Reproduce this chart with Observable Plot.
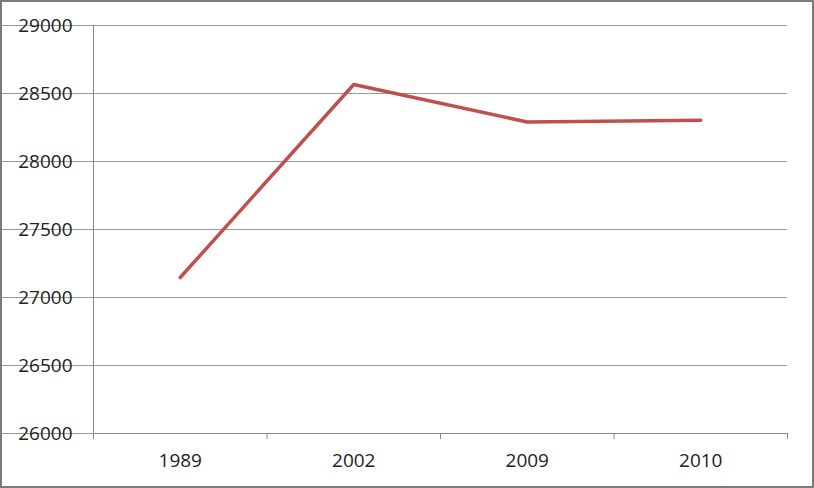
<!DOCTYPE html>
<html>
<head>
<meta charset="utf-8">
<script src="https://cdn.jsdelivr.net/npm/d3@7"></script>
<script src="https://cdn.jsdelivr.net/npm/@observablehq/plot@0.6"></script>
<style>
  html, body { margin: 0; padding: 0; background: #fff; }
  #chart svg { display: block; outline: 2px solid #7a7a7a; outline-offset: -2px; }
</style>
</head>
<body>
<div id="chart"></div>
<script>
const years = ["1989", "2002", "2009", "2010"];
const values = [27147, 28566, 28290, 28304];
const yTicks = [26000, 26500, 27000, 27500, 28000, 28500, 29000];

const data = years.map((y, i) => ({pos: i + 0.5, year: y, value: values[i]}));
const bounds = d3.range(years.length + 1);

const chart = Plot.plot({
  width: 814,
  height: 488,
  marginLeft: 93,
  marginRight: 27,
  marginTop: 25,
  marginBottom: 55,
  style: {fontFamily: "'Open Sans', sans-serif", fontSize: "19px", color: "#222", background: "#fff"},
  x: {domain: [0, years.length]},
  y: {domain: [26000, 29000]},
  marks: [
    Plot.gridY(yTicks, {stroke: "#9a9a9a", strokeOpacity: 1, x1: -5}),
    Plot.axisY(yTicks, {tickSize: 0, tickPadding: 21, tickFormat: d => String(d), fill: "#222", label: null}),
    Plot.ruleX([0], {stroke: "#868686"}),
    Plot.ruleY([26000], {stroke: "#868686"}),
    Plot.axisX(bounds, {tickSize: 6, tickFormat: () => "", stroke: "#868686", label: null}),
    Plot.axisX(data.map(d => d.pos), {tickSize: 0, tickPadding: 20, tickFormat: p => years[Math.floor(p)], fill: "#222", label: null}),
    Plot.line(data, {x: "pos", y: "value", stroke: "#C0504D", strokeWidth: 3.5, strokeLinejoin: "miter"})
  ]
});
document.getElementById("chart").append(chart);
</script>
</body>
</html>
